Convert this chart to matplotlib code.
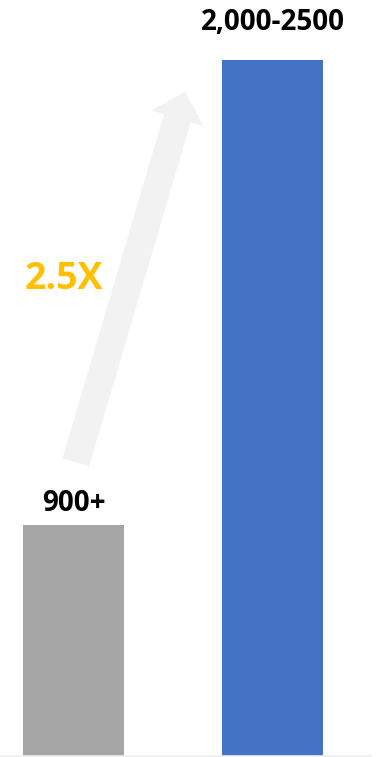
import matplotlib.pyplot as plt
from matplotlib.patches import FancyArrowPatch

categories = ["Before", "After"]
values = [900, 2710]
labels = ["900+", "2,000-2500"]
bar_colors = ["#A5A5A5", "#4472C4"]
growth_label = "2.5X"

W, H = 380, 757
fig = plt.figure(figsize=(W / 100, H / 100), dpi=100)
ax = fig.add_axes([0, 1 / H, 371 / W, 755 / H])

x = range(len(categories))
ax.bar(x, values, width=101 / 199, color=bar_colors)
ax.set_xlim(-73.5 / 199, -73.5 / 199 + 371 / 199)
ax.set_ylim(0, values[1] * 755 / 696)

for s in ["top", "left", "right"]:
    ax.spines[s].set_visible(False)
ax.spines["bottom"].set_color("#EDEDED")
ax.spines["bottom"].set_linewidth(1.2)
ax.set_xticks([])
ax.set_yticks([])

font = "Open Sans"
ax.annotate(labels[0], (0, values[0]), xytext=(0, 10), textcoords="offset points",
            ha="center", va="baseline", fontsize=20, fontweight="bold", family=font)
ax.annotate(labels[1], (1, values[1]), xytext=(0, 21.6), textcoords="offset points",
            ha="center", va="baseline", fontsize=20, fontweight="bold", family=font,
            annotation_clip=False)

# growth arrow
arrow = FancyArrowPatch((75 / W, 1 - 465 / H), (186 / W, 1 - 89 / H),
                        transform=fig.transFigure,
                        arrowstyle="simple,head_width=39,head_length=20,tail_width=20",
                        color="#F2F2F2", lw=0, mutation_scale=1)
fig.patches.append(arrow)

fig.text(25 / W, 1 - 289 / H, growth_label, color="#FFC000", fontsize=27,
         fontweight="bold", family=font, ha="left", va="baseline")

fig.savefig("out.png", dpi=100)
